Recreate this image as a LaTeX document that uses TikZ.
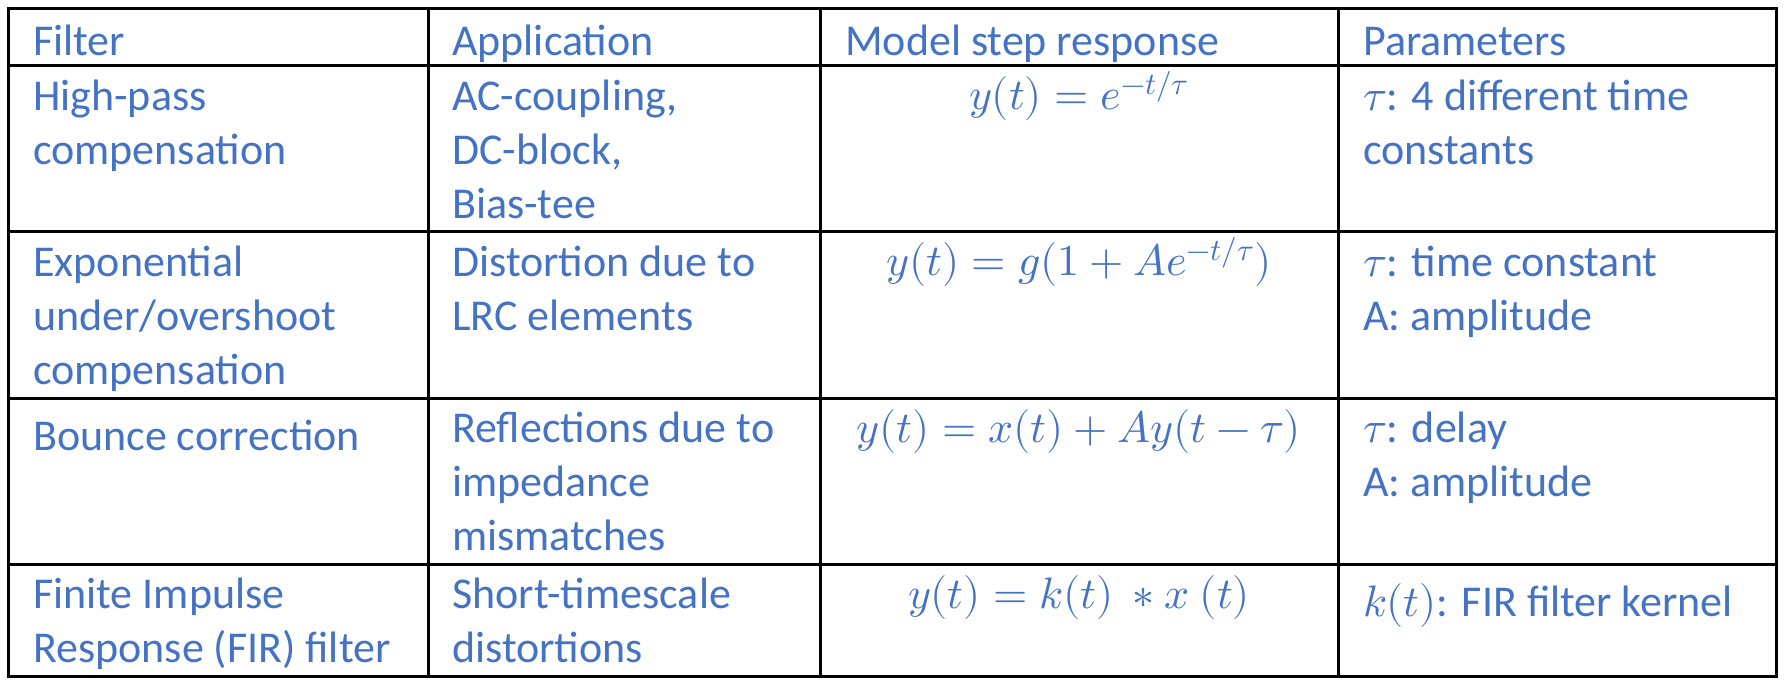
\documentclass[tikz,border=0pt]{standalone}
\usepackage{fontspec}
\usepackage{unicode-math}
\setmainfont{Carlito}
\setmathfont{Latin Modern Math}
\usetikzlibrary{positioning}
\definecolor{cellblue}{HTML}{4472C4}
\tikzset{
  cell/.style={anchor=north west,inner sep=0pt,text=cellblue,font=\fontsize{44}{54}\selectfont,align=left,execute at begin node={\strut}},
  formula/.style={anchor=base,inner sep=0pt,text=cellblue,font=\fontsize{44}{54}\selectfont},
  rule/.style={line width=3pt,black}
}
\begin{document}
\begin{tikzpicture}[x=1pt,y=-1pt]
    \useasboundingbox (0,0) rectangle (1785,684);
    % grid
    \draw[rule] (8,9) rectangle (1776,676);
    \foreach \yy in {66,232,398,564}
        \draw[rule] (8,\yy) -- (1776,\yy);
    \foreach \xx in {428,820,1338}
        \draw[rule] (\xx,9) -- (\xx,676);

    % header
    \node (hfilter) [cell] at (33,18) {Filter};
    \node (happ) [cell] at (452,18) {Application};
    \node (hmodel) [cell] at (845,18) {Model step response};
    \node (hpar) [cell] at (1363,18) {Parameters};

    % high-pass
    \node (f1) [cell] at (33,80) {High-pass\\compensation};
    \node (a1) [cell] at (452,80) {AC-coupling,\\DC-block,\\Bias-tee};
    \node (m1) [formula] at (1079,110) {$y(t)=e^{-t/\tau}$};
    \node (p1) [cell] at (1363,80) {$\tau$: 4 different time\\constants};

    % exponential
    \node (f2) [cell] at (33,246) {Exponential\\under/overshoot\\compensation};
    \node (a2) [cell] at (452,246) {Distortion due to\\LRC elements};
    \node (m2) [formula] at (1079,276) {$y(t)=g(1+Ae^{-t/\tau})$};
    \node (p2) [cell] at (1363,246) {$\tau$: time constant\\A: amplitude};

    % bounce
    \node (f3) [cell] at (33,412) {Bounce correction};
    \node (a3) [cell] at (452,412) {Reflections due to\\impedance\\mismatches};
    \node (m3) [formula] at (1079,442) {$y(t)=x(t)+Ay(t-\tau)$};
    \node (p3) [cell] at (1363,412) {$\tau$: delay\\A: amplitude};

    % fir
    \node (f4) [cell] at (33,578) {Finite Impulse\\Response (FIR) filter};
    \node (a4) [cell] at (452,578) {Short-timescale\\distortions};
    \node (m4) [formula] at (1079,608) {$y(t)=k(t)\ \ast x\ (t)$};
    \node (p4) [cell] at (1363,578) {$k(t)$: FIR filter kernel};
\end{tikzpicture}
\end{document}
